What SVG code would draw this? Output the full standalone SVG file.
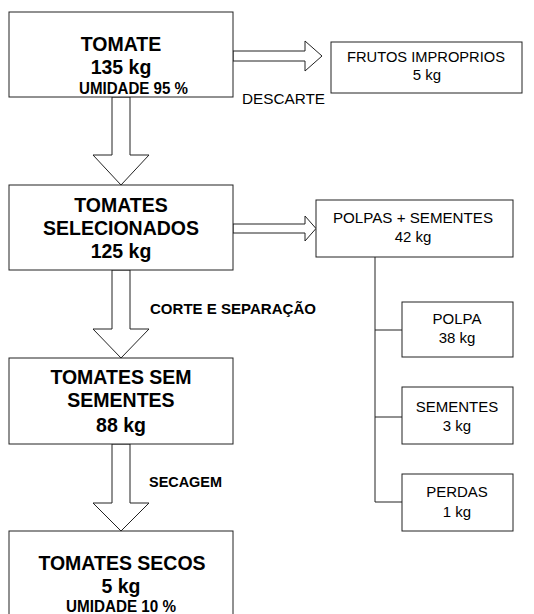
<svg xmlns="http://www.w3.org/2000/svg" width="534" height="614" viewBox="0 0 534 614">
<style>
.box{fill:#fff;stroke:#222;stroke-width:1}
.arr{fill:#fff;stroke:#222;stroke-width:1;stroke-linejoin:miter}
.ln{fill:none;stroke:#222;stroke-width:1}
text{font-family:"Liberation Sans",Arial,sans-serif;fill:#000;text-anchor:middle}
.big{font-size:19.5px;font-weight:bold}
.mid{font-size:16px;font-weight:bold}
.lab{font-size:15px;font-weight:bold;text-anchor:start}
.reg{font-size:15px}
</style>
<rect width="534" height="614" fill="#fff"/>
<g id="connectors">
<polygon class="arr" points="112,97 130,97 130,155 149,155 121,185 93,155 112,155"/>
<polygon class="arr" points="112,270 130,270 130,329 149,329 121,358 93,329 112,329"/>
<polygon class="arr" points="112,444 130,444 130,503 149,503 121,531 93,503 112,503"/>
<polygon class="arr" points="233,51 305,51 305,41 322,56 305,71 305,61 233,61"/>
<polygon class="arr" points="233,224 305,224 305,216 316,228.5 305,241 305,233 233,233"/>
<path class="ln" d="M375,257 V502 M375,330 H402 M375,417 H402 M375,502 H402"/>
<text class="reg" x="242" y="104" style="text-anchor:start" textLength="83" lengthAdjust="spacingAndGlyphs">DESCARTE</text>
<text class="lab" x="150" y="314" textLength="166" lengthAdjust="spacingAndGlyphs">CORTE E SEPARAÇÃO</text>
<text class="lab" x="149" y="487" textLength="73" lengthAdjust="spacingAndGlyphs">SECAGEM</text>
</g>
<g id="tomate">
<rect class="box" x="9" y="12" width="224" height="85"/>
<text class="big" x="121" y="51">TOMATE</text>
<text class="big" x="121" y="74">135 kg</text>
<text class="mid" x="133.5" y="94" textLength="109" lengthAdjust="spacingAndGlyphs">UMIDADE 95 %</text>
</g>
<g id="frutos">
<rect class="box" x="331" y="42" width="191" height="51"/>
<text class="reg" x="426" y="62" textLength="158" lengthAdjust="spacingAndGlyphs">FRUTOS IMPROPRIOS</text>
<text class="reg" x="427" y="80">5 kg</text>
</g>
<g id="selecionados">
<rect class="box" x="9" y="185" width="224" height="85"/>
<text class="big" x="121" y="212">TOMATES</text>
<text class="big" x="121" y="235">SELECIONADOS</text>
<text class="big" x="121" y="258">125 kg</text>
</g>
<g id="polpas">
<rect class="box" x="316" y="200" width="197" height="57"/>
<text class="reg" x="413" y="223" textLength="160" lengthAdjust="spacingAndGlyphs">POLPAS + SEMENTES</text>
<text class="reg" x="413" y="242">42 kg</text>
</g>
<g id="polpa">
<rect class="box" x="402" y="302" width="111" height="55"/>
<text class="reg" x="457" y="324">POLPA</text>
<text class="reg" x="457" y="343">38 kg</text>
</g>
<g id="sementes">
<rect class="box" x="402" y="387" width="111" height="57"/>
<text class="reg" x="457" y="412">SEMENTES</text>
<text class="reg" x="457" y="431">3 kg</text>
</g>
<g id="perdas">
<rect class="box" x="402" y="474" width="111" height="57"/>
<text class="reg" x="457" y="497">PERDAS</text>
<text class="reg" x="457" y="517">1 kg</text>
</g>
<g id="sem-sementes">
<rect class="box" x="9" y="358" width="224" height="86"/>
<text class="big" x="121" y="384">TOMATES SEM</text>
<text class="big" x="121" y="407">SEMENTES</text>
<text class="big" x="121" y="432">88 kg</text>
</g>
<g id="secos">
<rect class="box" x="9" y="531" width="224" height="100"/>
<text class="big" x="122" y="570">TOMATES SECOS</text>
<text class="big" x="121" y="593">5 kg</text>
<text class="mid" x="121" y="611.5" textLength="110" lengthAdjust="spacingAndGlyphs">UMIDADE 10 %</text>
</g>
</svg>
